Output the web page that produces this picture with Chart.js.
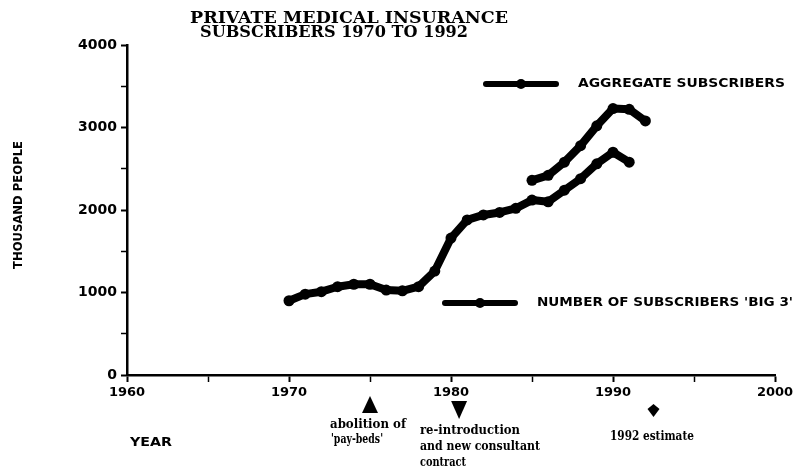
<!DOCTYPE html>
<html>
<head>
<meta charset="utf-8">
<title>Private medical insurance subscribers 1970 to 1992</title>
<script src="https://cdn.jsdelivr.net/npm/chart.js@4.4.0/dist/chart.umd.min.js"></script>
<style>
  html, body { margin: 0; padding: 0; background: #fff; }
  #wrap { width: 799px; height: 470px; }
</style>
</head>
<body>
<div id="wrap"><canvas id="chart" width="799" height="470"></canvas></div>
<script>
'use strict';

/* ---------- DATA (thousands) ---------- */
const big3Years  = [1970, 1971, 1972, 1973, 1974, 1975, 1976, 1977, 1978, 1979, 1980,
                    1981, 1982, 1983, 1984, 1985, 1986, 1987, 1988, 1989, 1990, 1991];
const big3Values = [900, 980, 1010, 1070, 1100, 1100, 1030, 1020, 1070, 1260, 1660,
                    1880, 1940, 1970, 2020, 2120, 2100, 2240, 2380, 2560, 2700, 2580];

const aggYears  = [1985, 1986, 1987, 1988, 1989, 1990, 1991, 1992];
const aggValues = [2360, 2420, 2580, 2780, 3020, 3230, 3220, 3080];

const xTickLabels = [1960, 1970, 1980, 1990, 2000];
const yTickLabels = [0, 1000, 2000, 3000, 4000];

/* events marked under the axis: year, marker shape, text lines */
const eventYears  = [1975, 1980.5, 1992.5];
const eventShapes = ['up', 'down', 'diamond'];
const eventTexts  = [["abolition of", "'pay-beds'"],
                     ['re-introduction', 'and new consultant', 'contract'],
                     ['1992 estimate']];

/* ---------- HELPERS ---------- */
function toPoints(xs, ys) {
  return xs.map((x, i) => ({ x, y: ys[i] }));
}

/* draw text squeezed / stretched horizontally to a target width */
function fitText(ctx, text, x, y, width, font, align) {
  ctx.save();
  ctx.font = font;
  const w = ctx.measureText(text).width;
  const k = width / w;
  let left = x;
  if (align === 'center') left = x - width / 2;
  if (align === 'right') left = x - width;
  ctx.translate(left, y);
  ctx.scale(k, 1);
  ctx.textAlign = 'left';
  ctx.textBaseline = 'middle';
  ctx.fillText(text, 0, 0);
  ctx.restore();
}

function legendSample(ctx, x1, x2, y) {
  ctx.save();
  ctx.strokeStyle = '#000';
  ctx.lineWidth = 6;
  ctx.lineCap = 'round';
  ctx.beginPath();
  ctx.moveTo(x1, y);
  ctx.lineTo(x2, y);
  ctx.stroke();
  ctx.beginPath();
  ctx.arc((x1 + x2) / 2, y, 5, 0, Math.PI * 2);
  ctx.fill();
  ctx.restore();
}

/* ---------- DECORATION PLUGIN ---------- */
const decorations = {
  id: 'decorations',
  afterDraw(chart) {
    const ctx = chart.ctx;
    const xs = chart.scales.x;
    ctx.save();
    ctx.fillStyle = '#000';

    /* title, heavy serif */
    const titleFont = 'bold 17px "DejaVu Serif", "Liberation Serif", serif';
    fitText(ctx, 'PRIVATE MEDICAL INSURANCE', 190, 19, 318, titleFont, 'left');
    fitText(ctx, 'SUBSCRIBERS 1970 TO 1992', 200, 33, 268, titleFont, 'left');

    /* y axis title */
    ctx.save();
    ctx.translate(19, 205);
    ctx.rotate(-Math.PI / 2);
    fitText(ctx, 'THOUSAND PEOPLE', 0, 0, 128, 'bold 13px "DejaVu Sans", sans-serif', 'center');
    ctx.restore();

    /* legend */
    const legFont = 'bold 13px "DejaVu Sans", sans-serif';
    legendSample(ctx, 486, 556, 84);
    fitText(ctx, 'AGGREGATE SUBSCRIBERS', 578, 84, 207, legFont, 'left');
    legendSample(ctx, 445, 515, 303);
    fitText(ctx, "NUMBER OF SUBSCRIBERS 'BIG 3'", 537, 303, 256, legFont, 'left');

    /* event markers below the axis */
    const noteFont = 'bold 12px "DejaVu Serif", serif';
    eventYears.forEach((yr, i) => {
      const px = xs.getPixelForValue(yr);
      ctx.beginPath();
      if (eventShapes[i] === 'up') {
        ctx.moveTo(px, 396); ctx.lineTo(px - 8, 413); ctx.lineTo(px + 8, 413);
      } else if (eventShapes[i] === 'down') {
        ctx.moveTo(px - 8, 401); ctx.lineTo(px + 8, 401); ctx.lineTo(px, 419);
      } else {
        ctx.moveTo(px - 6, 409); ctx.lineTo(px, 404); ctx.lineTo(px + 6, 409); ctx.lineTo(px, 417);
      }
      ctx.closePath();
      ctx.fill();
    });
    fitText(ctx, eventTexts[0][0], xs.getPixelForValue(eventYears[0]) - 2, 425, 76, noteFont, 'center');
    fitText(ctx, eventTexts[0][1], xs.getPixelForValue(eventYears[0]) - 13, 440, 52, noteFont, 'center');
    fitText(ctx, eventTexts[1][0], 420, 431, 100, noteFont, 'left');
    fitText(ctx, eventTexts[1][1], 420, 447, 120, noteFont, 'left');
    fitText(ctx, eventTexts[1][2], 420, 463, 46, noteFont, 'left');
    fitText(ctx, eventTexts[2][0], 652, 437, 84, noteFont, 'center');

    /* x axis title */
    fitText(ctx, 'YEAR', 130, 443, 42, 'bold 13px "DejaVu Sans", sans-serif', 'left');

    ctx.restore();
  }
};

/* ---------- CHART ---------- */
const lineStyle = {
  borderColor: '#000',
  backgroundColor: '#000',
  borderWidth: 8,
  borderJoinStyle: 'round',
  borderCapStyle: 'round',
  pointRadius: 5.5,
  pointBorderWidth: 0,
  pointBackgroundColor: '#000',
  tension: 0,
  fill: false,
};

new Chart(document.getElementById('chart'), {
  type: 'line',
  data: {
    datasets: [
      { label: "NUMBER OF SUBSCRIBERS 'BIG 3'", data: toPoints(big3Years, big3Values), ...lineStyle },
      { label: 'AGGREGATE SUBSCRIBERS', data: toPoints(aggYears, aggValues), ...lineStyle },
    ],
  },
  options: {
    responsive: false,
    animation: false,
    layout: { padding: { left: 67, right: 24, top: 45, bottom: 65 } },
    plugins: { legend: { display: false }, tooltip: { enabled: false }, title: { display: false } },
    scales: {
      x: {
        type: 'linear',
        min: 1960,
        max: 2000,
        afterFit: s => { s.height = 30; },
        ticks: {
          stepSize: 5,
          autoSkip: false,
          maxRotation: 0,
          padding: 3,
          color: '#000',
          font: { family: '"DejaVu Sans", sans-serif', size: 13, weight: 'bold' },
          callback: v => (xTickLabels.includes(v) ? String(v) : ''),
        },
        grid: {
          drawOnChartArea: false,
          tickLength: 7,
          tickColor: '#000',
          tickWidth: c => (c.tick && xTickLabels.includes(c.tick.value) ? 2 : 1.5),
        },
        border: { color: '#000', width: 2.5 },
      },
      y: {
        min: 0,
        max: 4000,
        afterFit: s => { s.width = 60; },
        ticks: {
          stepSize: 500,
          padding: 4,
          color: '#000',
          font: { family: '"DejaVu Sans", sans-serif', size: 14, weight: 'bold' },
          callback: v => (yTickLabels.includes(v) ? String(v) : ''),
        },
        grid: {
          drawOnChartArea: false,
          tickLength: 6,
          tickColor: '#000',
          tickWidth: c => (c.tick && yTickLabels.includes(c.tick.value) ? 2 : 1.5),
        },
        border: { color: '#000', width: 2.5 },
      },
    },
  },
  plugins: [decorations],
});
</script>
</body>
</html>
